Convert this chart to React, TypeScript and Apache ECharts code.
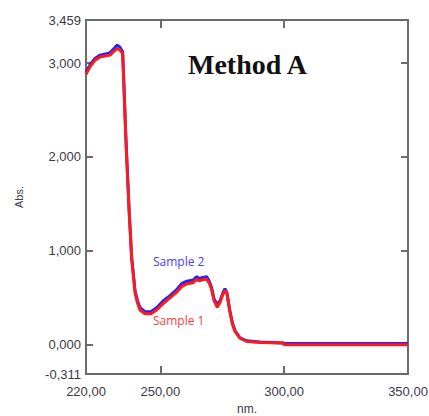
import React, { useEffect, useRef } from "react";
import * as echarts from "echarts";

const wavelength = [220, 221.6, 223.6, 225.7, 227.7, 229.7, 231.0, 232.6, 233.7, 234.8, 235.1, 236.15, 237.36, 238.45, 239.2, 239.8, 240.8, 241.8, 243.8, 246.2, 248.5, 251.2, 253.9, 256.6, 258.6, 260.7, 263.3, 264.7, 265.6, 266.7, 268.7, 269.7, 270.7, 271.7, 273.0, 274.1, 275.3, 276.1, 276.9, 278.1, 279.1, 280.2, 282.2, 284.9, 290.2, 299.5, 300.0, 350];
const sample2 = [2.90, 2.98, 3.05, 3.085, 3.096, 3.11, 3.146, 3.192, 3.17, 3.12, 2.92, 2.178, 1.463, 0.929, 0.737, 0.576, 0.47, 0.395, 0.352, 0.352, 0.395, 0.47, 0.523, 0.587, 0.651, 0.678, 0.689, 0.726, 0.705, 0.715, 0.726, 0.683, 0.609, 0.491, 0.427, 0.47, 0.555, 0.598, 0.555, 0.363, 0.235, 0.149, 0.075, 0.043, 0.03, 0.02, 0.014, 0.014];
const sample1 = [2.88, 2.96, 3.03, 3.065, 3.075, 3.085, 3.12, 3.155, 3.14, 3.10, 2.90, 2.16, 1.45, 0.91, 0.715, 0.55, 0.445, 0.37, 0.33, 0.33, 0.37, 0.44, 0.50, 0.56, 0.62, 0.65, 0.66, 0.70, 0.68, 0.69, 0.70, 0.66, 0.59, 0.47, 0.40, 0.45, 0.54, 0.58, 0.54, 0.35, 0.22, 0.14, 0.07, 0.035, 0.025, 0.02, 0.0, 0.0];

const xLabels = [220, 250, 300, 350];
const xTicks = [250, 300];
const yLabels = [-0.311, 0, 1, 2, 3, 3.459];
const yTicks = [0, 1, 2, 3];
const xMin = 220, xMax = 350, yMin = -0.311, yMax = 3.459;

const frame = { show: true, onZero: false, lineStyle: { color: "#6b6b6b", width: 2 } };
const tickStyle = { color: "#6b6b6b", width: 2 };
const labelColor = "#3a3a48";
const fontFamily = "'Liberation Sans', Arial, sans-serif";

export default function App() {
  const ref = useRef<HTMLDivElement>(null);
  useEffect(() => {
    if (!ref.current) return;
    const chart = echarts.init(ref.current, null, { renderer: "svg" });
    const pair = (ys: number[]) => wavelength.map((x, i) => [x, ys[i]]);
    chart.setOption({
      animation: false,
      grid: { left: 86, right: 21, top: 20, bottom: 42, containLabel: false, outerBoundsMode: "none" },
      xAxis: [
        {
          type: "value", min: xMin, max: xMax, position: "bottom",
          name: "nm.", nameLocation: "middle", nameGap: 28,
          nameTextStyle: { color: labelColor, fontSize: 12, fontFamily },
          axisLine: frame,
          axisTick: { show: true, inside: true, length: 8, customValues: xTicks, lineStyle: tickStyle },
          axisLabel: {
            show: true, customValues: xLabels, color: labelColor, fontSize: 13, margin: 11, fontFamily,
            formatter: (v: number) => v.toFixed(2).replace(".", ","),
          },
          splitLine: { show: false },
        },
        {
          type: "value", min: xMin, max: xMax, position: "top",
          axisLine: frame,
          axisTick: { show: true, inside: true, length: 8, customValues: xTicks, lineStyle: tickStyle },
          axisLabel: { show: false },
          splitLine: { show: false },
        },
      ],
      yAxis: [
        {
          type: "value", min: yMin, max: yMax, position: "left",
          name: "Abs.", nameLocation: "middle", nameGap: 62, nameRotate: 90,
          nameTextStyle: { color: labelColor, fontSize: 11, fontFamily },
          axisLine: frame,
          axisTick: { show: true, inside: true, length: 7, customValues: yTicks, lineStyle: tickStyle },
          axisLabel: {
            show: true, customValues: yLabels, color: labelColor, fontSize: 13, margin: 5, fontFamily,
            formatter: (v: number) => v.toFixed(3).replace(".", ","),
          },
          splitLine: { show: false },
        },
        {
          type: "value", min: yMin, max: yMax, position: "right",
          axisLine: frame,
          axisTick: { show: true, inside: true, length: 7, customValues: yTicks, lineStyle: tickStyle },
          axisLabel: { show: false },
          splitLine: { show: false },
        },
      ],
      series: [
        {
          name: "Sample 2", type: "line", data: pair(sample2), showSymbol: false, symbol: "none",
          lineStyle: { color: "#2222ff", width: 3 }, z: 2,
        },
        {
          name: "Sample 1", type: "line", data: pair(sample1), showSymbol: false, symbol: "none",
          lineStyle: { color: "#ff1a1a", width: 3 }, z: 3,
        },
      ],
      graphic: [
        {
          type: "text", left: 188, top: 50,
          style: { text: "Method A", fill: "#111", font: "bold 28px 'Liberation Serif', 'Times New Roman', serif" },
        },
        {
          type: "text", left: 153, top: 255,
          style: { text: "Sample 2", fill: "#4040ff", font: "12px 'Open Sans', 'Liberation Sans', sans-serif" },
        },
        {
          type: "text", left: 153, top: 314,
          style: { text: "Sample 1", fill: "#ff4040", font: "12px 'Open Sans', 'Liberation Sans', sans-serif" },
        },
      ],
    });
    return () => chart.dispose();
  }, []);
  return <div ref={ref} style={{ width: 429, height: 416, position: "absolute", left: 0, top: 0 }} />;
}
